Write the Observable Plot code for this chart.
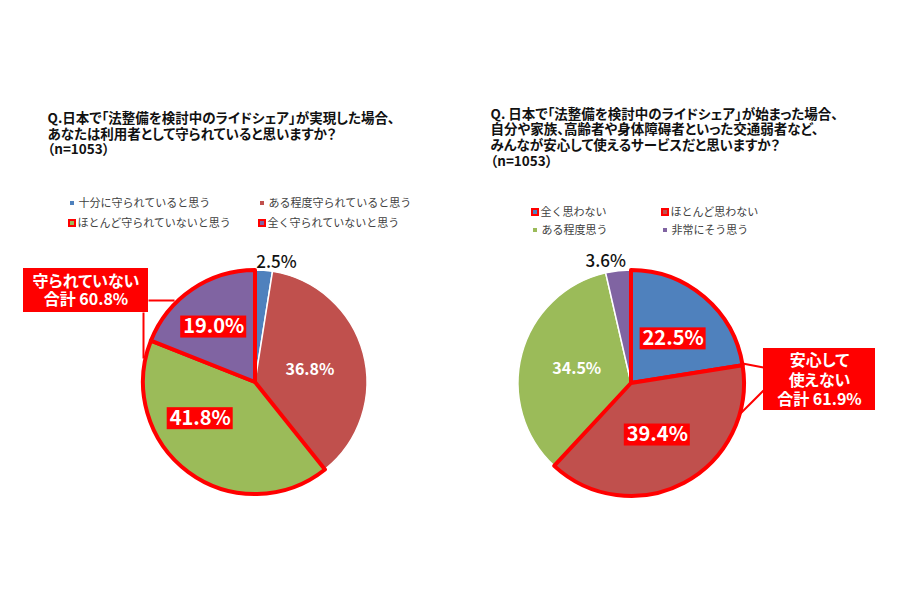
<!DOCTYPE html>
<html><head><meta charset="utf-8">
<script src="https://cdn.jsdelivr.net/npm/d3@7"></script>
<script src="https://cdn.jsdelivr.net/npm/@observablehq/plot@0.6"></script>
<style>
body{margin:0;background:#fff;}
#chart svg{display:block;}
text[aria-label="title"], text[aria-label="callout"]{font-feature-settings:"palt";}
</style>
</head><body><div id="chart"></div>
<script>
// ---------- data ----------
const seriesColors = ["#4F81BD", "#C0504D", "#9BBB59", "#8064A2"];

const leftTitleLines = [
  "Q.日本で「法整備を検討中のライドシェア」が実現した場合、",
  "あなたは利用者として守られていると思いますか？",
  "（n=1053）"
];
const leftCategories = ["十分に守られていると思う", "ある程度守られていると思う", "ほとんど守られていないと思う", "全く守られていないと思う"];
const leftValues = [2.5, 36.8, 41.8, 19.0];
const leftHighlighted = [false, false, true, true];
const leftCalloutLines = ["守られていない", "合計 60.8%"];

const rightTitleLines = [
  "Q. 日本で「法整備を検討中のライドシェア」が始まった場合、",
  "自分や家族、高齢者や身体障碍者といった交通弱者など、",
  "みんなが安心して使えるサービスだと思いますか？",
  "（n=1053）"
];
const rightCategories = ["全く思わない", "ほとんど思わない", "ある程度思う", "非常にそう思う"];
const rightValues = [22.5, 39.4, 34.5, 3.6];
const rightHighlighted = [true, true, false, false];
const rightCalloutLines = ["安心して", "使えない", "合計 61.9%"];

// ---------- layout ----------
const W = 899, H = 600;
const RED = "#FF0000";
const FONT = '"Noto Sans CJK JP", "Noto Sans", sans-serif';
const TITLE_SIZE = 13.5;

const layouts = [
  {
    title: {x: 47, y: 118, gap: 15.3},
    legend: {x: 72, y: 203, colW: 190, rowH: 20},
    pie: {cx: 255, cy: 382, r: 112},
    labelPolar: [[9.9, 1.09], [76.5, 0.5], [236.8, 0.59], [323, 0.62]],
    callout: {box: [23, 268, 148, 312], lineGap: 18},
    links: [[148, 300, 174, 300], [143, 312, 143, 358]]
  },
  {
    title: {x: 490, y: 113, gap: 15.7},
    legend: {x: 535, y: 212, colW: 130, rowH: 18},
    pie: {cx: 631, cy: 383, r: 113},
    labelPolar: [[43, 0.54], [153.4, 0.51], [284.5, 0.5], [348, 1.1]],
    callout: {box: [763, 348, 875, 410], lineGap: 19.5},
    links: [[763, 367, 742, 363], [763, 390, 740, 413]]
  }
];

const charts = [
  {titleLines: leftTitleLines, categories: leftCategories, values: leftValues, highlighted: leftHighlighted, calloutLines: leftCalloutLines},
  {titleLines: rightTitleLines, categories: rightCategories, values: rightValues, highlighted: rightHighlighted, calloutLines: rightCalloutLines}
];

// ---------- derived tables ----------
const titleRows = [], legendRows = [], slices = [], labelRows = [], calloutBoxes = [], calloutText = [], linkRows = [];
charts.forEach((c, ci) => {
  const L = layouts[ci];
  const n0 = c.titleLines.length;
  titleRows.push({x: L.title.x, y: L.title.y + (n0 - 1) / 2 * L.title.gap, text: c.titleLines.join("\n"), lh: L.title.gap / TITLE_SIZE});
  c.categories.forEach((name, i) => {
    const col = i % 2, row = Math.floor(i / 2);
    legendRows.push({
      x: L.legend.x + col * L.legend.colW, y: L.legend.y + row * L.legend.rowH,
      name, color: seriesColors[i], hl: c.highlighted[i]
    });
  });
  const arcs = d3.pie().sort(null).value(d => d)(c.values);
  arcs.forEach((a, i) => {
    slices.push({chart: ci, start: a.startAngle, end: a.endAngle, color: seriesColors[i], hl: c.highlighted[i]});
    const [deg, f] = L.labelPolar[i];
    const ang = deg * Math.PI / 180;
    const rr = f * L.pie.r;
    labelRows.push({
      x: L.pie.cx + Math.sin(ang) * rr, y: L.pie.cy - Math.cos(ang) * rr,
      text: c.values[i].toFixed(1) + "%",
      kind: f > 1 ? "out" : (c.highlighted[i] ? "hl" : "in")
    });
  });
  const [bx1, by1, bx2, by2] = L.callout.box;
  calloutBoxes.push({x1: bx1, y1: by1, x2: bx2, y2: by2});
  calloutText.push({x: (bx1 + bx2) / 2, y: (by1 + by2) / 2, text: c.calloutLines.join("\n"), lh: L.callout.lineGap / 16});
  L.links.forEach(([x1, y1, x2, y2]) => linkRows.push({x1, y1, x2, y2}));
});

const BOXW = 66, BOXH = 22;
const hlLabels = labelRows.filter(d => d.kind === "hl");

// pie slices drawn through Plot's x/y scales
function pieMark(index, scales) {
  const g = d3.create("svg:g").attr("aria-label", "pie");
  const ordered = slices.slice().sort((a, b) => (a.hl ? 1 : 0) - (b.hl ? 1 : 0));
  for (const s of ordered) {
    const P = layouts[s.chart].pie;
    const cx = scales.x(P.cx), cy = scales.y(P.cy);
    const r = scales.x(P.cx + P.r) - cx;
    const arc = d3.arc().innerRadius(0).outerRadius(r).startAngle(s.start).endAngle(s.end);
    g.append("path")
      .attr("transform", `translate(${cx},${cy})`)
      .attr("d", arc())
      .attr("fill", s.color)
      .attr("stroke", s.hl ? RED : "#fff")
      .attr("stroke-width", s.hl ? 4 : 1.5)
      .attr("stroke-linejoin", "round");
  }
  return g.node();
}

const textMulti = (rows, opts) => rows.map(r => Plot.text([r], {x: "x", y: "y", text: "text", lineHeight: r.lh, ...opts}));

const plot = Plot.plot({
  width: W, height: H,
  margin: 0,
  x: {domain: [0, W], range: [0, W], axis: null},
  y: {domain: [0, H], range: [0, H], axis: null},
  style: {fontFamily: FONT, background: "#fff"},
  marks: [
    // titles
    ...textMulti(titleRows, {textAnchor: "start", fontSize: TITLE_SIZE, fontWeight: "bold", fill: "#111", ariaLabel: () => "title"}),
    // legends
    Plot.rect(legendRows.filter(d => !d.hl), {x1: d => d.x - 2, x2: d => d.x + 2, y1: d => d.y - 2, y2: d => d.y + 2, fill: "color"}),
    Plot.rect(legendRows.filter(d => d.hl), {x1: d => d.x - 3, x2: d => d.x + 3, y1: d => d.y - 3, y2: d => d.y + 3, fill: "color", stroke: RED, strokeWidth: 2}),
    Plot.text(legendRows, {x: d => d.x + (d.hl ? 5 : 6), y: "y", text: "name", textAnchor: "start", fontSize: 11, fill: "#404040"}),
    // pies
    pieMark,
    // connector lines
    Plot.link(linkRows, {x1: "x1", y1: "y1", x2: "x2", y2: "y2", stroke: RED, strokeWidth: 2}),
    // callout boxes
    Plot.rect(calloutBoxes, {x1: "x1", y1: "y1", x2: "x2", y2: "y2", fill: RED}),
    ...textMulti(calloutText, {fontSize: 16, fontWeight: "bold", fill: "#fff", ariaLabel: () => "callout"}),
    // percentage labels
    Plot.rect(hlLabels, {x1: d => d.x - BOXW / 2, x2: d => d.x + BOXW / 2, y1: d => d.y - BOXH / 2, y2: d => d.y + BOXH / 2, fill: RED}),
    Plot.text(hlLabels, {x: "x", y: "y", text: "text", fontSize: 20, fontWeight: "bold", fill: "#fff"}),
    Plot.text(labelRows.filter(d => d.kind === "in"), {x: "x", y: "y", text: "text", fontSize: 16, fontWeight: "bold", fill: "#fff"}),
    Plot.text(labelRows.filter(d => d.kind === "out"), {x: "x", y: "y", text: "text", fontSize: 17, fontWeight: 500, fill: "#111"})
  ]
});
document.getElementById("chart").appendChild(plot);
</script>
</body></html>
